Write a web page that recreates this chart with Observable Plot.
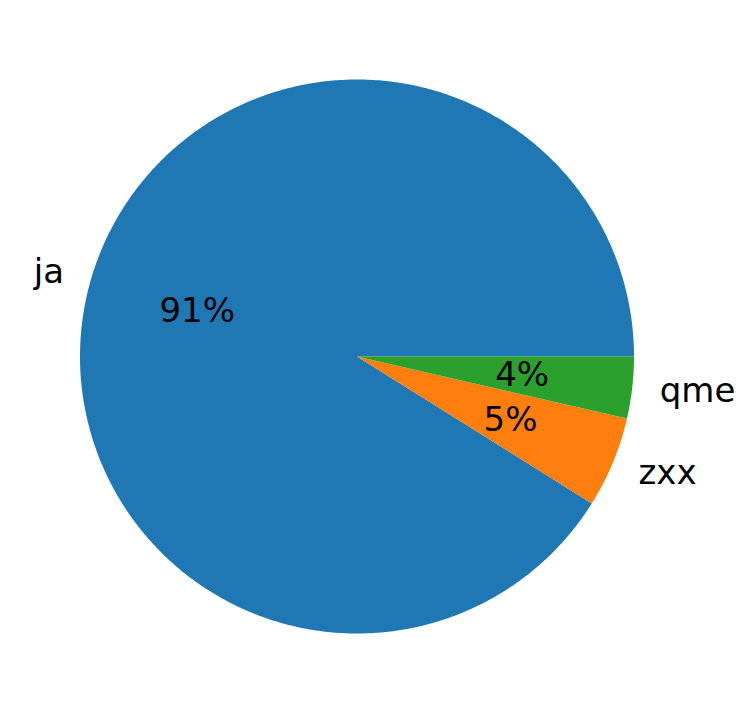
<!DOCTYPE html>
<html>
<head>
<meta charset="utf-8">
<script src="https://cdn.jsdelivr.net/npm/d3@7"></script>
<script src="https://cdn.jsdelivr.net/npm/@observablehq/plot@0.6"></script>
<style>
  html, body { margin: 0; padding: 0; background: #fff; }
</style>
</head>
<body>
<div id="chart"></div>
<script>
// Data
const labels = ["ja", "zxx", "qme"];
const values = [91.1, 5.3, 3.6];
const colors = ["#1f77b4", "#ff7f0e", "#2ca02c"];

// Geometry (data units: radius = 1)
const R = 277;
const cx = 356.5, cy = 356;
const W = 746, H = 713;
const FS = 34;

const total = d3.sum(values);
const slices = [];
const points = [];
let start = 0;
values.forEach((v, i) => {
  const span = v / total * 2 * Math.PI;
  const end = start + span;
  const n = Math.max(2, Math.ceil(span / (Math.PI / 360)));
  points.push({label: labels[i], x: 0, y: 0});
  for (let k = 0; k <= n; k++) {
    const a = start + span * k / n;
    points.push({label: labels[i], x: Math.cos(a), y: Math.sin(a)});
  }
  points.push({label: labels[i], x: 0, y: 0});
  const mid = (start + end) / 2;
  slices.push({
    label: labels[i],
    pct: Math.round(v / total * 100) + "%",
    lx: 1.1 * Math.cos(mid), ly: 1.1 * Math.sin(mid),
    px: 0.6 * Math.cos(mid), py: 0.6 * Math.sin(mid),
    anchor: Math.cos(mid) >= 0 ? "start" : "end"
  });
  start = end;
});

const chart = Plot.plot({
  width: W,
  height: H,
  margin: 0,
  style: {fontFamily: "DejaVu Sans", background: "#fff"},
  x: {domain: [-cx / R, (W - cx) / R], range: [0, W], axis: null},
  y: {domain: [-(H - cy) / R, cy / R], range: [H, 0], axis: null},
  color: {domain: labels, range: colors},
  marks: [
    Plot.line(points, {x: "x", y: "y", z: "label", fill: "label", stroke: null, curve: "linear"}),
    Plot.text(slices.filter(d => d.anchor === "start"), {x: "lx", y: "ly", text: "label", textAnchor: "start", fontSize: FS, fill: "black"}),
    Plot.text(slices.filter(d => d.anchor === "end"), {x: "lx", y: "ly", text: "label", textAnchor: "end", fontSize: FS, fill: "black"}),
    Plot.text(slices, {x: "px", y: "py", text: "pct", fontSize: FS, fill: "black"})
  ]
});
document.getElementById("chart").appendChild(chart);
</script>
</body>
</html>
